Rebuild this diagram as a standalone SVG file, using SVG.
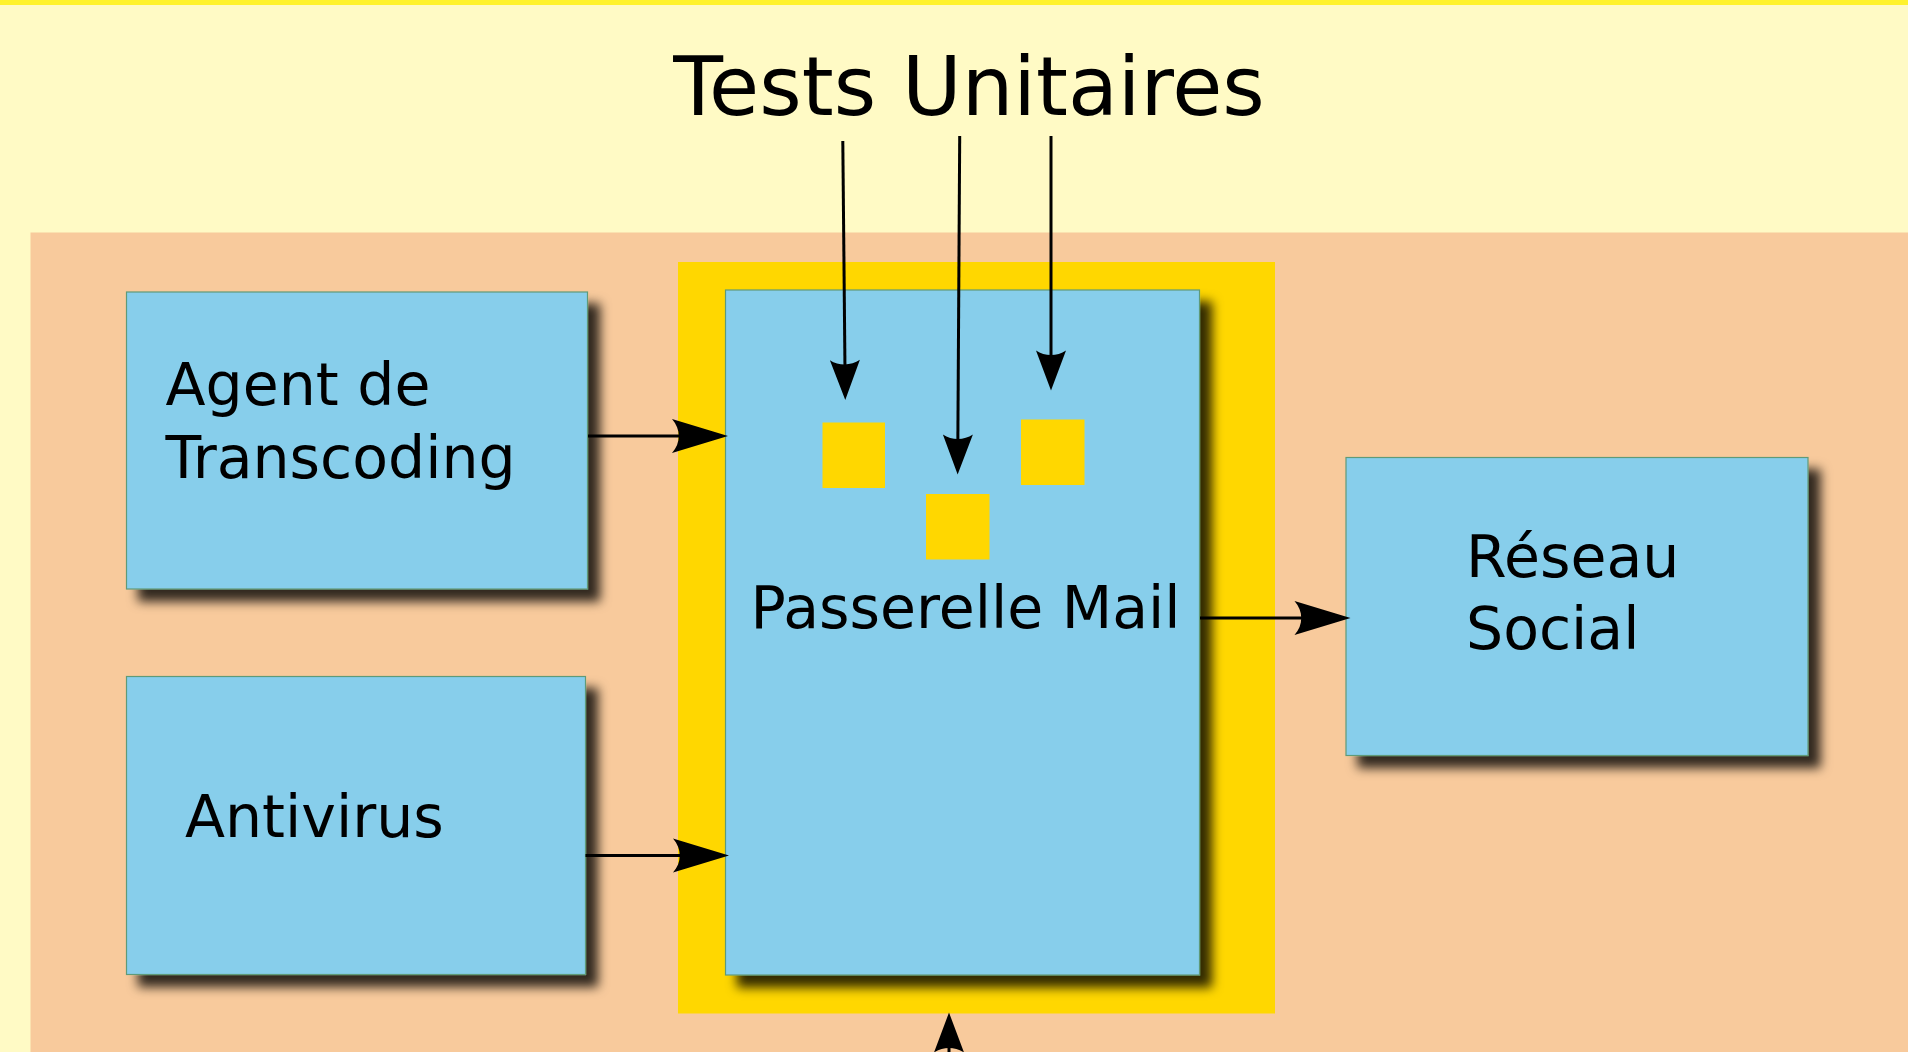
<svg xmlns="http://www.w3.org/2000/svg" width="1908" height="1052" viewBox="0 0 1908 1052">
<style>
.box{fill:#87ceeb;stroke:#5f9a78;stroke-width:1.2;filter:url(#shadow)}
.sq{fill:#ffd700}
.lbl{font-family:"DejaVu Sans","Liberation Sans",sans-serif;font-size:58.5px;fill:#000}
.title{font-family:"DejaVu Sans","Liberation Sans",sans-serif;font-size:81.5px;fill:#000}
.conn{stroke:#000;stroke-width:3;fill:none}
.big{marker-end:url(#arrowBig)}
.small{marker-end:url(#arrowSmall)}
</style>
<defs>
<filter id="shadow" x="-10%" y="-10%" width="130%" height="130%">
<feGaussianBlur in="SourceAlpha" stdDeviation="5.5"/>
<feOffset dx="12" dy="12" result="b"/>
<feFlood flood-color="#000" flood-opacity="0.8"/>
<feComposite in2="b" operator="in"/>
<feMerge><feMergeNode/><feMergeNode in="SourceGraphic"/></feMerge>
</filter>
<marker id="arrowBig" markerUnits="userSpaceOnUse" viewBox="-50 -20 62 40" markerWidth="62" markerHeight="40" refX="0" refY="0" orient="auto" overflow="visible">
<path d="M10,0 L-46,-17 C-37,-7 -37,7 -46,17 Z" fill="#000"/>
</marker>
<marker id="arrowSmall" markerUnits="userSpaceOnUse" viewBox="-36 -17 46 34" markerWidth="46" markerHeight="34" refX="0" refY="0" orient="auto" overflow="visible">
<path d="M8,0 L-32,-15 C-26,-6 -26,6 -32,15 Z" fill="#000"/>
</marker>
</defs>
<rect x="0" y="0" width="1908" height="1052" fill="#fffac5"/>
<rect x="0" y="0" width="1908" height="5" fill="#fff22d"/>
<rect x="30.5" y="232.5" width="1878" height="820" fill="#f8ca9c"/>
<text class="title" x="969" y="115" text-anchor="middle">Tests Unitaires</text>
<g id="frame-passerelle">
<rect x="678" y="262" width="597" height="751.5" fill="#ffd700"/>
</g>
<g id="node-agent">
<rect class="box" x="126.5" y="292" width="461" height="297"/>
<text class="lbl" x="165.5" y="405">Agent de</text>
<text class="lbl" x="165.5" y="478">Transcoding</text>
</g>
<g id="node-antivirus">
<rect class="box" x="126.5" y="676.5" width="459" height="298"/>
<text class="lbl" x="185" y="837">Antivirus</text>
</g>
<g id="node-passerelle">
<rect class="box" x="725.5" y="290" width="474" height="685"/>
<rect class="sq" x="822.5" y="422.5" width="62.5" height="65.5"/>
<rect class="sq" x="926" y="494" width="63.5" height="65.5"/>
<rect class="sq" x="1021" y="419.5" width="63.5" height="65.5"/>
<text class="lbl" x="750.5" y="628">Passerelle Mail</text>
</g>
<g id="node-reseau">
<rect class="box" x="1346" y="457.5" width="462" height="298"/>
<text class="lbl" x="1466" y="577">Réseau</text>
<text class="lbl" x="1466" y="648.5">Social</text>
</g>
<g id="connectors">
<line class="conn big" x1="588" y1="436" x2="718" y2="436"/>
<line class="conn big" x1="585.5" y1="855.5" x2="719" y2="855.5"/>
<line class="conn big" x1="1200" y1="618" x2="1340.5" y2="618"/>
<line class="conn small" x1="842.8" y1="141" x2="845.2" y2="392"/>
<line class="conn small" x1="959.7" y1="136" x2="957.7" y2="466.5"/>
<line class="conn small" x1="1051" y1="136" x2="1051" y2="382.4"/>
<line class="conn small" x1="949" y1="1060" x2="949" y2="1020.5"/>
</g>
</svg>
